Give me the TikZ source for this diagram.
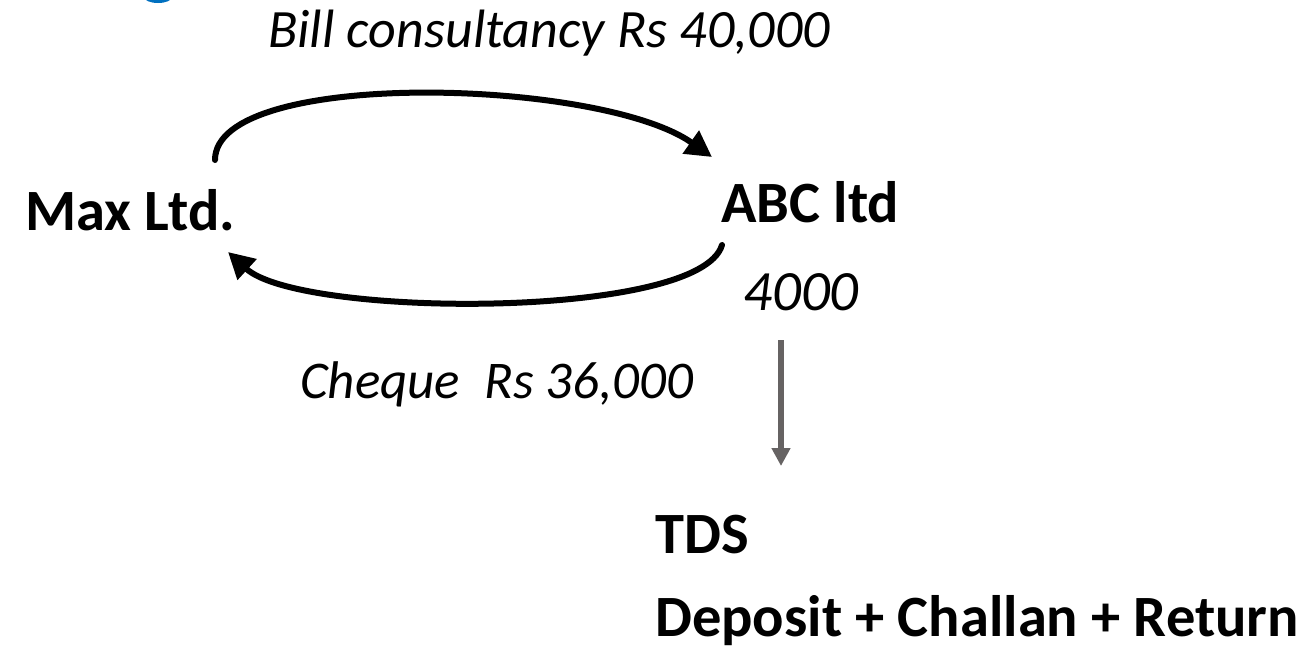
\documentclass[tikz,border=0pt]{standalone}
\usepackage{fontspec}
\setmainfont{Carlito}
\usetikzlibrary{arrows.meta}
\definecolor{arrowgray}{HTML}{666363}
\definecolor{titleblue}{HTML}{0070C0}
\tikzset{
  party/.style={font=\fontsize{58.5}{70}\selectfont\bfseries, inner sep=0pt, anchor=base west},
  note/.style={font=\fontsize{54}{64}\selectfont\itshape, inner sep=0pt, anchor=base west},
  flow/.style={line width=6pt, line cap=round, -{Triangle[length=26pt,width=27pt]}},
  tdsflow/.style={line width=5.5pt, arrowgray, -{Triangle[length=18pt,width=18pt]}}
}
\begin{document}
\begin{tikzpicture}[x=1pt,y=-1pt]
  \useasboundingbox (0,0) rectangle (1305,665);
  % tail of the blue heading above the figure
  \begin{scope}
    \clip (0,0) rectangle (1305,665);
    \fill[titleblue] (158,-3) ellipse [x radius=14, y radius=6];
  \end{scope}

  % the two parties
  \node[party] (max) at (25,230) {Max Ltd.};
  \node[party] (abc) at (721,222) {ABC ltd};

  % transaction labels
  \node[note] (bill) at (268,47) {Bill consultancy Rs 40,000};
  \node[note, font=\fontsize{53}{64}\selectfont\itshape] (cheque) at (300,398) {Cheque\ \ Rs 36,000};
  \node[note, font=\fontsize{57}{68}\selectfont\itshape] (amt) at (743,310) {4000};

  % TDS and what follows
  \node[party] (tds) at (655,553) {TDS};
  \node[party] (dep) at (655,636) {Deposit + Challan + Return};

  % arcs between the parties
  \coordinate (billstart) at (215,160);
  \coordinate (billend) at (712,157);
  \coordinate (chqstart) at (722,245);
  \coordinate (chqend) at (228,252);
  \draw[flow] (billstart) .. controls (215,68) and (600,78) .. (billend);
  \draw[flow] (chqstart) .. controls (700,320) and (300,318) .. (chqend);

  % TDS deduction arrow
  \coordinate (tdstop) at (781,340);
  \coordinate (tdsend) at (781,466);
  \draw[tdsflow] (tdstop) -- (tdsend);
\end{tikzpicture}
\end{document}
